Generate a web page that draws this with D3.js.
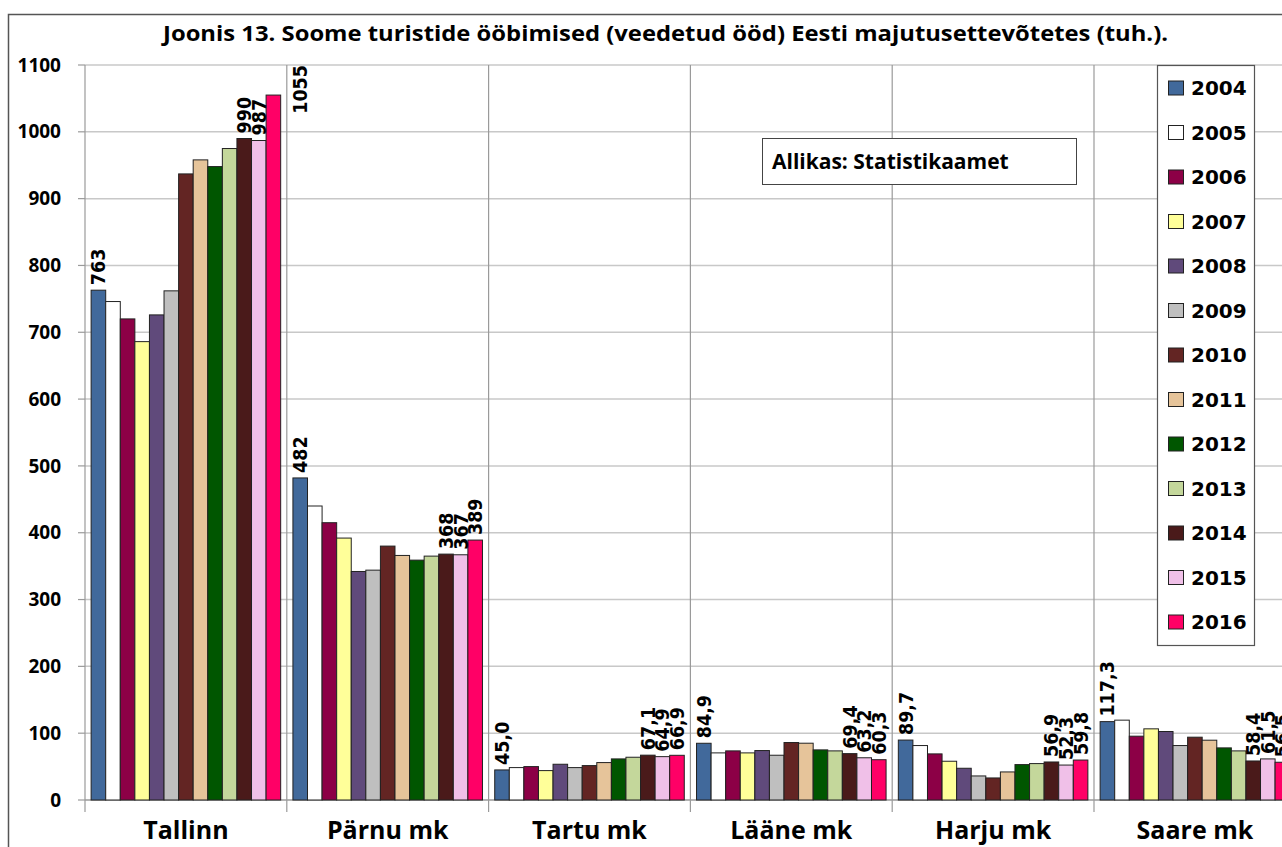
<!DOCTYPE html>
<html>
<head>
<meta charset="utf-8">
<script src="https://cdn.jsdelivr.net/npm/d3@7"></script>
<style>
  body { margin: 0; background: #fff; }
  svg { display: block; }
</style>
</head>
<body>
<div id="chart"></div>
<script>
// categories and series
const regions = ['Tallinn', 'Pärnu mk', 'Tartu mk', 'Lääne mk', 'Harju mk', 'Saare mk'];
const years = ['2004', '2005', '2006', '2007', '2008', '2009', '2010', '2011', '2012', '2013', '2014', '2015', '2016'];
const colors = ['#41699b', '#ffffff', '#8c0046', '#ffff99', '#604a7b', '#bfbfbf', '#632523', '#e6c49a', '#005600', '#c4d79b', '#4a1a1a', '#f0c0e8', '#ff0066'];

// values per region, 2004..2016 (thousand nights)
const tallinn = [763, 746, 720, 686, 726, 762, 937, 958, 948, 975, 990, 987, 1055];
const parnu = [482, 440, 415, 392, 342, 344, 380, 366, 359, 365, 368, 367, 389];
const tartu = [45.0, 48.5, 50, 44, 53.5, 48.5, 51.5, 56, 61.5, 64, 67.1, 64.9, 66.9];
const laane = [84.9, 70.5, 73.5, 70.5, 74, 67, 86, 85, 75, 73.5, 69.4, 63.2, 60.3];
const harju = [89.7, 81.5, 69, 58, 47.5, 36, 33, 42, 53, 54.5, 56.9, 52.3, 59.8];
const saare = [117.3, 119.5, 95.5, 106.5, 102.5, 81.5, 94, 89.5, 78, 73.5, 58.4, 61.5, 56.5];
const values = [tallinn, parnu, tartu, laane, harju, saare];

// which years get a value label
const labelled = ['2004', '2014', '2015', '2016'];
const yTicks = [0, 100, 200, 300, 400, 500, 600, 700, 800, 900, 1000, 1100];

const title = 'Joonis 13. Soome turistide ööbimised (veedetud ööd) Eesti majutusettevõtetes (tuh.).';
const source = 'Allikas: Statistikaamet';

const W = 1282, H = 847;
const plot = { left: 85, top: 65, bottom: 800, step: 201.8 };
const uiFont = '"Open Sans", Lato, sans-serif';

const svg = d3.select('#chart').append('svg')
    .attr('width', W).attr('height', H);

// chart area border (clipped on right / bottom like the reference)
svg.append('path')
    .attr('d', `M8.5,${H + 2} V14.5 H${W + 2}`)
    .attr('fill', 'none').attr('stroke', '#555').attr('stroke-width', 1.5);

svg.append('text')
    .attr('x', 163).attr('y', 41)
    .attr('textLength', 1005).attr('lengthAdjust', 'spacingAndGlyphs')
    .style('font-family', uiFont)
    .style('font-weight', 'bold').style('font-size', '22px')
    .text(title);

const y = d3.scaleLinear().domain([0, 1100]).range([plot.bottom, plot.top]);
const x0 = d3.scaleBand().domain(regions)
    .range([plot.left, plot.left + plot.step * regions.length]).padding(0);
const x1 = d3.scaleBand().domain(years)
    .range([0, x0.bandwidth()]).paddingInner(0).paddingOuter(0.42);

// horizontal gridlines
svg.append('g').selectAll('line').data(yTicks.slice(1)).enter().append('line')
    .attr('x1', plot.left).attr('x2', W)
    .attr('y1', d => y(d)).attr('y2', d => y(d))
    .attr('stroke', '#c8c8c8').attr('stroke-width', 1.5);

// vertical category dividers
const bounds = regions.map(r => x0(r)).concat([x0(regions[regions.length - 1]) + x0.bandwidth()]);
svg.append('g').selectAll('line').data(bounds).enter().append('line')
    .attr('x1', d => d).attr('x2', d => d)
    .attr('y1', plot.top).attr('y2', plot.bottom + 12)
    .attr('stroke', '#9a9a9a').attr('stroke-width', 1.2);

// y axis ticks + labels
const yAxis = svg.append('g');
yAxis.selectAll('line').data(yTicks).enter().append('line')
    .attr('x1', plot.left - 7).attr('x2', plot.left)
    .attr('y1', d => y(d)).attr('y2', d => y(d))
    .attr('stroke', '#9a9a9a').attr('stroke-width', 1.2);
yAxis.selectAll('text').data(yTicks).enter().append('text')
    .attr('x', 61).attr('y', d => y(d))
    .attr('dy', '0.35em').attr('text-anchor', 'end')
    .style('font-family', uiFont).style('font-weight', 'bold').style('font-size', '19px')
    .text(d => d);

// x axis line
svg.append('line')
    .attr('x1', plot.left).attr('x2', W)
    .attr('y1', plot.bottom).attr('y2', plot.bottom)
    .attr('stroke', '#9a9a9a').attr('stroke-width', 1.5);

// bars
const groups = svg.append('g').selectAll('g').data(regions).enter().append('g')
    .attr('transform', d => `translate(${x0(d)},0)`);

groups.selectAll('rect')
    .data((r, i) => years.map((yr, j) => ({ year: yr, value: values[i][j], color: colors[j] })))
    .enter().append('rect')
    .attr('x', d => x1(d.year))
    .attr('y', d => y(d.value))
    .attr('width', x1.bandwidth())
    .attr('height', d => plot.bottom - y(d.value))
    .attr('fill', d => d.color)
    .attr('stroke', '#222').attr('stroke-width', 1);

// value labels (rotated)
groups.each(function(r, i) {
    const g = d3.select(this);
    years.forEach((yr, j) => {
        if (!labelled.includes(yr)) return;
        const v = values[i][j];
        const txt = i < 2 ? String(Math.round(v)) : v.toFixed(1).replace('.', ',');
        let cx = x1(yr) + x1.bandwidth() / 2;
        let ty = y(v) - 5;
        const t = g.append('text')
            .style('font-family', '"DejaVu Sans Condensed", "DejaVu Sans", sans-serif')
            .style('font-stretch', 'condensed')
            .style('font-weight', 'bold').style('font-size', '19.5px')
            .attr('dy', '0.36em')
            .text(txt);
        const len = t.node().getComputedTextLength();
        let anchor = 'start';
        if (ty - len < plot.top) {
            // no room above: put it next to the bar, hanging from the top
            cx += x1.bandwidth() * 1.8;
            ty = plot.top;
            anchor = 'end';
        }
        t.attr('text-anchor', anchor)
            .attr('transform', `translate(${cx},${ty}) rotate(-90)`);
    });
});

// category labels
svg.append('g').selectAll('text').data(regions).enter().append('text')
    .attr('x', d => x0(d) + x0.bandwidth() / 2).attr('y', 839)
    .attr('text-anchor', 'middle')
    .style('font-family', uiFont).style('font-weight', 'bold').style('font-size', '25px')
    .text(d => d);

// source box
const src = svg.append('g');
src.append('rect').attr('x', 762.5).attr('y', 138.5).attr('width', 314).attr('height', 46)
    .attr('fill', '#fff').attr('stroke', '#444').attr('stroke-width', 1);
src.append('text').attr('x', 772).attr('y', 169)
    .style('font-family', uiFont).style('font-weight', 'bold').style('font-size', '21px')
    .text(source);

// legend
const legend = svg.append('g');
legend.append('rect').attr('x', 1157.5).attr('y', 65.5).attr('width', 97).attr('height', 580)
    .attr('fill', '#fff').attr('stroke', '#555').attr('stroke-width', 1.2);
const ly = d3.scalePoint().domain(years).range([88, 622]);
const items = legend.selectAll('g').data(years).enter().append('g')
    .attr('transform', d => `translate(1168,${ly(d)})`);
items.append('rect')
    .attr('x', 0.5).attr('y', -7).attr('width', 15).attr('height', 14)
    .attr('fill', (d, i) => colors[i]).attr('stroke', '#222').attr('stroke-width', 1);
items.append('text')
    .attr('x', 23).attr('dy', '0.36em')
    .style('font-family', '"DejaVu Sans", sans-serif').style('font-weight', 'bold').style('font-size', '20px')
    .text(d => d);
</script>
</body>
</html>
